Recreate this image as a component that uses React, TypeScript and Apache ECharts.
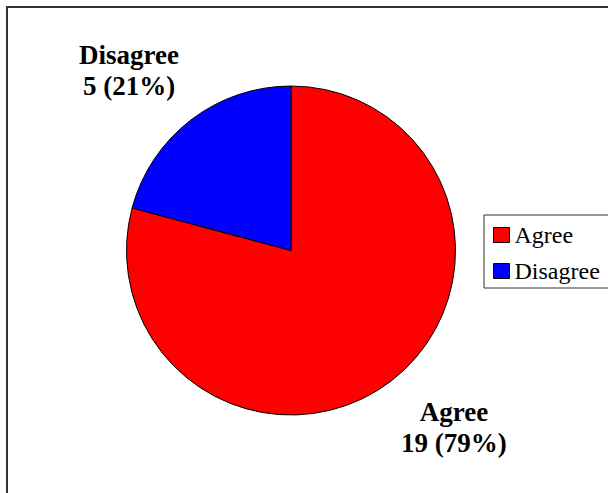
import React, { useEffect, useRef } from "react";
import * as echarts from "echarts";

const categories = ["Agree", "Disagree"];
const counts = [19, 5];
const colors = ["#FF0000", "#0000FF"];
const labelOffsets = [[15, -16], [-14, 13]];

export default function App() {
  const ref = useRef<HTMLDivElement>(null);
  useEffect(() => {
    if (!ref.current) return;
    const chart = echarts.init(ref.current, null, { renderer: "svg" });
    const font = "'Liberation Serif', 'Times New Roman', serif";
    const mainData = categories.map((name, i) => ({
      name,
      value: counts[i],
      itemStyle: { color: colors[i] },
    }));
    const ghostData = categories.map((name, i) => ({
      name,
      value: counts[i],
      label: { offset: labelOffsets[i] },
    }));
    chart.setOption({
      animation: false,
      backgroundColor: "#ffffff",
      graphic: [
        {
          type: "rect",
          shape: { x: 7, y: 7, width: 700, height: 600 },
          style: { fill: "none", stroke: "#333333", lineWidth: 2 },
          silent: true,
        },
      ],
      legend: {
        data: categories,
        orient: "vertical",
        left: 484,
        top: 215,
        padding: [8, 20, 5, 9],
        itemGap: 12,
        itemWidth: 16,
        itemHeight: 15,
        icon: "rect",
        borderColor: "#333333",
        borderWidth: 1,
        borderRadius: 0,
        itemStyle: { borderColor: "#000000", borderWidth: 1 },
        textStyle: {
          fontFamily: font,
          fontSize: 24,
          color: "#000000",
        },
        selectedMode: false,
      },
      series: [
        {
          type: "pie",
          name: "main",
          center: [291, 250.5],
          radius: 164.5,
          startAngle: 90,
          clockwise: true,
          data: mainData,
          itemStyle: { borderColor: "#000000", borderWidth: 1 },
          label: { show: false },
          labelLine: { show: false },
          emphasis: { disabled: true },
          silent: true,
        },
        {
          type: "pie",
          name: "labels",
          center: [291, 250.5],
          radius: [230, 250],
          startAngle: 90,
          clockwise: true,
          percentPrecision: 0,
          data: ghostData,
          itemStyle: { color: "rgba(0,0,0,0)", borderWidth: 0 },
          label: {
            show: true,
            position: "inside",
            formatter: "{b}\n{c} ({d}%)",
            fontFamily: font,
            fontWeight: "bold",
            fontSize: 27,
            lineHeight: 31,
            color: "#000000",
            align: "center",
          },
          labelLine: { show: false },
          emphasis: { disabled: true },
          silent: true,
        },
      ],
    });
    return () => chart.dispose();
  }, []);
  return (
    <div
      ref={ref}
      style={{ position: "fixed", left: 0, top: 0, width: 608, height: 493 }}
    />
  );
}
